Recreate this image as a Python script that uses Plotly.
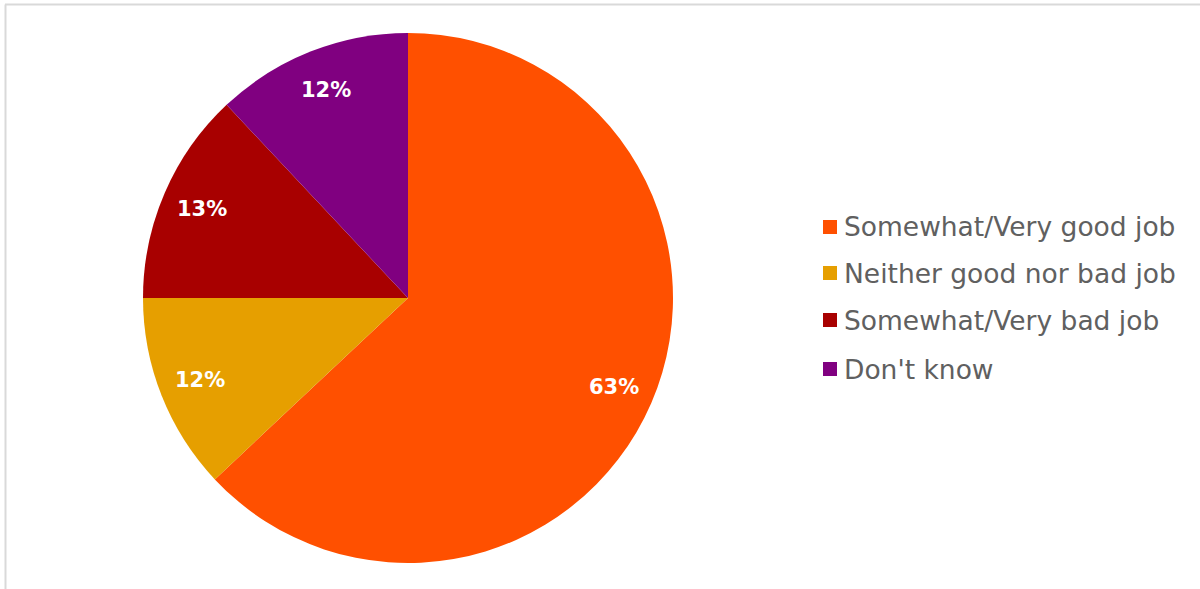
import math
import plotly.graph_objects as go

# Survey answers and their shares (percent)
labels = ["Somewhat/Very good job", "Neither good nor bad job",
          "Somewhat/Very bad job", "Don't know"]
values = [63, 12, 13, 12]
colors = ["#FF5000", "#E69F00", "#A80000", "#800080"]

W, H = 1200, 589
# pie domain in paper fractions
dom_x = [143 / W, 673 / W]
dom_y = [(H - 563) / H, (H - 33) / H]

fig = go.Figure(go.Pie(
    labels=labels,
    values=values,
    marker=dict(colors=colors, line=dict(width=0)),
    sort=False,
    direction="clockwise",
    rotation=0,
    textinfo="none",
    hoverinfo="label+percent",
    showlegend=False,
    domain=dict(x=dom_x, y=dom_y),
))

# value labels placed along each slice's mid-angle
cx = (dom_x[0] + dom_x[1]) / 2 * W
cy = (dom_y[0] + dom_y[1]) / 2 * H
R = (dom_x[1] - dom_x[0]) * W / 2
total = sum(values)
cum = 0
annotations = []
for v in values:
    mid = (cum + v / 2) / total * 2 * math.pi
    cum += v
    r = 0.845 * R
    px = cx + r * math.sin(mid)
    py = cy + r * math.cos(mid)
    annotations.append(dict(
        x=px / W, y=py / H, xref="paper", yref="paper",
        text=f"<b>{v}%</b>", showarrow=False,
        font=dict(family="DejaVu Sans", size=21, color="white"),
        xanchor="center", yanchor="middle",
    ))

# legend drawn as colored squares with text
shapes = []
leg_x0 = 823
leg_y = [227, 273, 320, 369]
for lab, col, yy in zip(labels, colors, leg_y):
    shapes.append(dict(type="rect", xref="paper", yref="paper",
                       x0=leg_x0 / W, x1=(leg_x0 + 14) / W,
                       y0=(H - yy - 7) / H, y1=(H - yy + 7) / H,
                       fillcolor=col, line=dict(width=0)))
    annotations.append(dict(
        x=(leg_x0 + 19) / W, y=(H - yy) / H, xref="paper", yref="paper",
        text=lab, showarrow=False, xanchor="left", yanchor="middle",
        font=dict(family="DejaVu Sans", size=26.5, color="#606060"),
    ))

# thin frame along the top and left edges
shapes.append(dict(type="line", xref="paper", yref="paper",
                   x0=5 / W, x1=1, y0=1 - 4.5 / H, y1=1 - 4.5 / H,
                   line=dict(color="#D9D9D9", width=2)))
shapes.append(dict(type="line", xref="paper", yref="paper",
                   x0=5.5 / W, x1=5.5 / W, y0=0, y1=1 - 4.5 / H,
                   line=dict(color="#D9D9D9", width=2)))

fig.update_layout(
    width=W, height=H,
    margin=dict(l=0, r=0, t=0, b=0),
    paper_bgcolor="white",
    plot_bgcolor="white",
    shapes=shapes,
    annotations=annotations,
)

fig.write_html("out.html")
